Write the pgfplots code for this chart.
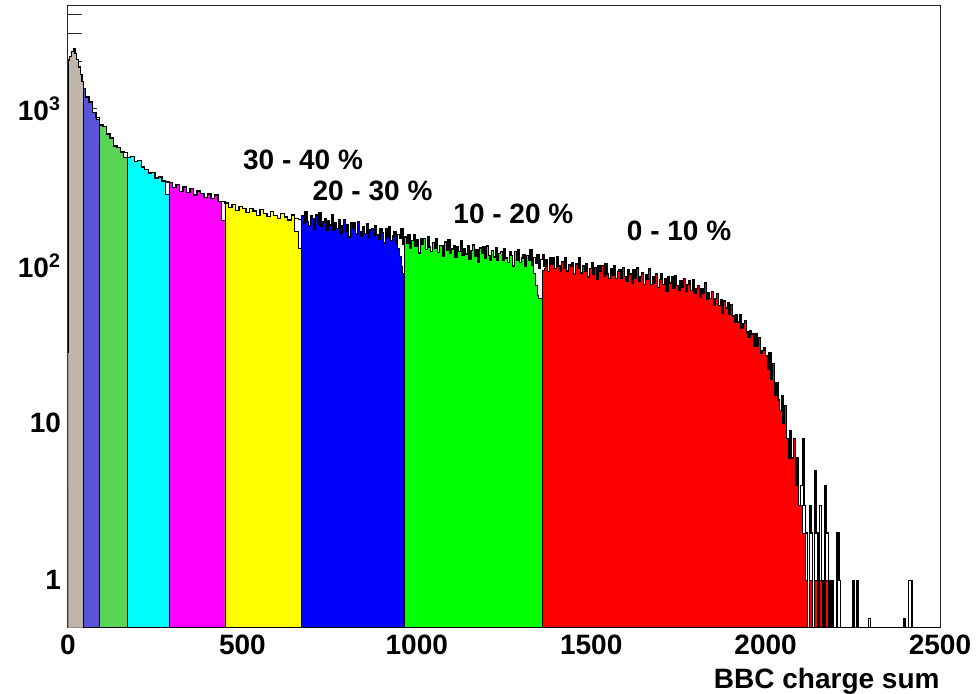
\documentclass[border=0pt]{standalone}
\usepackage{fontspec}
\setmainfont{Liberation Sans}
\usepackage{pgfplots}
\usepackage{pgfplotstable}
\pgfplotsset{compat=1.18}
\usetikzlibrary{calc}

\definecolor{cgray}{RGB}{191,181,171}
\definecolor{cgrayd}{RGB}{150,140,133}
\definecolor{cviolet}{RGB}{89,84,217}
\definecolor{clgreen}{RGB}{89,212,84}
\definecolor{ccyan}{RGB}{0,255,255}
\definecolor{cmagenta}{RGB}{255,0,255}
\definecolor{cyellow}{RGB}{255,255,0}
\definecolor{cblue}{RGB}{0,0,255}
\definecolor{cgreen}{RGB}{0,255,0}
\definecolor{cred}{RGB}{255,0,0}

\newcommand\lbl{\fontsize{14}{16}\selectfont\bfseries}

% x = bin low edge, tot = all events, fil = events of the centrality class
\pgfplotstableread{
x tot fil
0 28 28
0 2040 2040
5 2150 2150
10 2310 2310
15 2400 2400
20 2240 2240
25 2060 2060
30 1840 1840
35 1650 1650
40 1490 1490
45 1340 1340
50 1190 1190
60 1100 1100
70 950 950
80 880 850
90 790 790
100 770 770
110 690 690
120 650 650
130 580 580
140 565 565
150 530 530
160 525 490
170 490 490
180 495 495
190 462 462
200 470 470
210 425 425
220 412 412
230 390 390
240 392 392
250 362 362
260 368 368
270 346 346
280 342 285
290 338 338
300 314 314
310 330 330
320 298 298
330 318 318
340 294 294
350 310 310
360 282 282
370 300 300
380 290 290
390 272 272
400 286 286
410 268 268
420 282 282
430 256 256
440 258 195
450 252 252
460 236 236
470 245 245
480 226 226
490 238 238
500 232 232
510 218 218
520 231 231
530 224 224
540 210 210
550 228 228
560 216 216
570 206 206
580 221 221
590 210 210
600 201 201
610 215 215
620 205 205
630 196 196
640 211 211
650 201 165
660 198 130
670 210 210
675 187 187
680 221 221
685 192 192
690 180 180
695 210 210
700 200 200
705 172 172
710 211 211
715 185 185
720 217 217
725 178 178
730 190 190
735 200 200
740 169 169
745 194 194
750 182 182
755 213 213
760 169 169
765 189 189
770 173 173
775 196 196
780 161 161
785 181 181
790 197 197
795 167 167
800 184 184
805 153 153
810 187 187
815 173 173
820 189 189
825 160 160
830 192 192
835 166 166
840 155 155
845 177 177
850 161 161
855 186 186
860 153 153
865 169 169
870 173 173
875 154 154
880 181 181
885 158 158
890 147 147
895 172 172
900 163 163
905 140 140
910 173 173
915 151 151
920 177 177
925 145 145
930 155 155
935 164 164
940 138 138
945 159 130
950 149 115
955 173 100
960 138 90
965 153 153
970 140 140
975 158 158
980 129 129
985 145 145
990 157 157
995 133 133
1000 146 146
1005 121 121
1010 149 149
1015 137 137
1020 150 150
1025 127 127
1030 153 153
1035 132 132
1040 123 123
1045 141 141
1050 129 129
1055 148 148
1060 122 122
1065 135 135
1070 134 134
1075 115 115
1080 142 142
1085 125 125
1090 146 146
1095 120 120
1100 128 128
1105 135 135
1110 114 114
1115 132 132
1120 124 124
1125 145 145
1130 116 116
1135 129 129
1140 119 119
1145 134 134
1150 110 110
1155 125 125
1160 136 136
1165 115 115
1170 127 127
1175 106 106
1180 130 130
1185 120 120
1190 132 132
1195 112 112
1200 134 134
1205 116 116
1210 108 108
1215 125 125
1220 114 114
1225 131 131
1230 108 108
1235 120 120
1240 123 123
1245 109 109
1250 129 129
1255 112 112
1260 105 105
1265 123 123
1270 117 117
1275 100 100
1280 124 124
1285 109 109
1290 127 127
1295 105 105
1300 112 112
1305 118 118
1310 100 100
1315 116 116
1320 109 109
1325 127 127
1330 101 101
1335 113 90
1340 104 75
1345 118 65
1350 97 62
1355 110 62
1360 118 94
1365 100 96
1370 110 110
1375 92 92
1380 112 112
1385 103 103
1390 113 113
1395 96 96
1400 115 115
1405 100 100
1410 93 93
1415 107 107
1420 97 97
1425 112 112
1430 93 93
1435 102 102
1440 100 100
1445 105 105
1450 89 89
1455 103 103
1460 96 96
1465 112 112
1470 90 90
1475 100 100
1480 92 92
1485 104 104
1490 85 85
1495 96 96
1500 105 105
1505 89 89
1510 98 98
1515 82 82
1520 100 100
1525 92 92
1530 101 101
1535 86 86
1540 103 103
1545 89 89
1550 83 83
1555 96 96
1560 87 87
1565 100 100
1570 83 83
1575 92 92
1580 94 94
1585 84 84
1590 98 98
1595 86 86
1600 80 80
1605 94 94
1610 89 89
1615 77 77
1620 94 94
1625 83 83
1630 97 97
1635 80 80
1640 85 85
1645 90 90
1650 76 76
1655 88 88
1660 82 82
1665 96 96
1670 76 76
1675 85 85
1680 78 78
1685 89 89
1690 73 73
1695 82 82
1700 89 89
1705 76 76
1710 83 83
1715 69 69
1720 85 85
1725 78 78
1730 85 85
1735 72 72
1740 87 87
1745 75 75
1750 70 70
1755 80 80
1760 73 73
1765 83 83
1770 69 69
1775 76 76
1780 80 80
1785 70 70
1790 82 82
1795 67 67
1800 72 72
1805 75 75
1810 63 63
1815 72 72
1820 67 67
1825 78 78
1830 61 61
1835 68 68
1840 62 62
1845 69 69
1850 56 56
1855 62 62
1860 67 67
1865 56 56
1870 61 61
1875 50 50
1880 60 60
1885 54 54
1890 58 58
1895 49 49
1900 57 57
1905 48 48
1910 44 44
1915 49 49
1920 44 44
1925 49 49
1930 40 40
1935 43 43
1940 45 45
1945 38 38
1950 35 35
1955 39 39
1960 37 37
1965 31 31
1970 37 37
1975 31 31
1980 35 35
1985 28 28
1990 29 29
1995 30 30
2000 27 27
2005 22 22
2010 28 28
2015 19 19
2020 24 24
2025 15 15
2030 18 18
2035 14 14
2040 12 12
2045 15 15
2050 10 10
2055 13 13
2060 8 8
2065 6 6
2070 9 9
2075 6 6
2080 8 8
2085 4 4
2090 6 5
2095 3 3
2100 4 3
2105 8 2
2110 3 2
2115 2 1
2120 0.01 0.01
2125 3 1
2130 2 1
2135 0.01 0.01
2140 5 1
2145 2 1
2150 0.01 0.01
2155 3 1
2160 1 1
2165 0.01 0.01
2170 4 1
2175 2 1
2180 1 0.01
2185 0.01 0.01
2190 1 0.01
2195 0.01 0.01
2205 2 0.01
2210 1 0.01
2215 0.01 0.01
2250 1 0.01
2255 0.01 0.01
2260 1 0.01
2265 0.01 0.01
2295 0.57 0.01
2300 0.01 0.01
2395 0.57 0.01
2400 0.01 0.01
2410 1 0.01
2420 0.01 0.01
2500 0.01 0.01
}\bbc

\begin{document}
\begin{tikzpicture}
\begin{axis}[
  scale only axis,
  width=436pt, height=310.85pt,
  xmin=0, xmax=2500,
  ymode=log, ymin=0.5, ymax=4500,
  log origin=infty,
  xtick={0,500,1000,1500,2000,2500},
  xticklabels={0,500,1000,1500,2000,2500},
  xtick style={draw=none},
  xtick pos=bottom,
  ytick={1,10,100,1000},
  yticklabels={1,10,10\textsuperscript{2},10\textsuperscript{3}},
  minor ytick={0.6,0.7,0.8,0.9,2,3,4,5,6,7,8,9,20,30,40,50,60,70,80,90,
               200,300,400,500,600,700,800,900,2000,3000,4000},
  ytick pos=left,
  major tick length=14.5pt,
  minor tick length=7pt,
  every tick/.style={black!85, line width=0.5pt},
  tick label style={font=\lbl},
  axis line style={black!85, line width=0.5pt},
  xlabel={BBC charge sum},
  xlabel style={font=\lbl, at={(axis description cs:1,0)}, anchor=north east,
                inner sep=0pt, yshift=-20pt},
]
\coordinate (ll) at (rel axis cs:0,0);
\coordinate (ur) at (rel axis cs:1,1);

\addplot[const plot, fill=cgray, draw=cgrayd, line width=0.4pt,
  restrict x to domain=0:45] table[x=x, y=fil] {\bbc} \closedcycle;
\addplot[const plot, fill=cviolet, draw=black, line width=0.4pt,
  restrict x to domain=45:90] table[x=x, y=fil] {\bbc} \closedcycle;
\addplot[const plot, fill=clgreen, draw=black, line width=0.4pt,
  restrict x to domain=90:170] table[x=x, y=fil] {\bbc} \closedcycle;
\addplot[const plot, fill=ccyan, draw=black, line width=0.4pt,
  restrict x to domain=170:290] table[x=x, y=fil] {\bbc} \closedcycle;
\addplot[const plot, fill=cmagenta, draw=black, line width=0.4pt,
  restrict x to domain=290:450] table[x=x, y=fil] {\bbc} \closedcycle;
\addplot[const plot, fill=cyellow, draw=black, line width=0.4pt,
  restrict x to domain=450:670] table[x=x, y=fil] {\bbc} \closedcycle;
\addplot[const plot, fill=cblue, draw=black, line width=0.4pt,
  restrict x to domain=670:965] table[x=x, y=fil] {\bbc} \closedcycle;
\addplot[const plot, fill=cgreen, draw=black, line width=0.4pt,
  restrict x to domain=965:1360] table[x=x, y=fil] {\bbc} \closedcycle;
\addplot[const plot, fill=cred, draw=black, line width=0.4pt,
  restrict x to domain=1360:2500] table[x=x, y=fil] {\bbc} \closedcycle;

% all events
\addplot[const plot, black, line width=0.7pt] table[x=x, y=tot] {\bbc};

\node[font=\lbl] at (axis cs:674,470) {30 - 40 \%};
\node[font=\lbl] at (axis cs:873,298) {20 - 30 \%};
\node[font=\lbl] at (axis cs:1277,213) {10 - 20 \%};
\node[font=\lbl] at (axis cs:1752,168) {0 - 10 \%};
\end{axis}
\pgfresetboundingbox
\path[use as bounding box] ($(ll)+(-34pt,-33.15pt)$) rectangle ($(ur)+(19pt,3pt)$);
\end{tikzpicture}
\end{document}
